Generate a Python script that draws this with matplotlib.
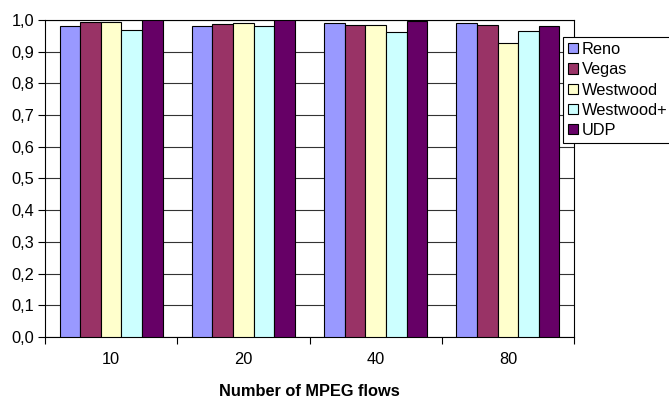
import numpy as np
import matplotlib
matplotlib.use("Agg")
import matplotlib.pyplot as plt
from matplotlib.ticker import FuncFormatter

plt.rcParams['font.family'] = ['Liberation Sans', 'DejaVu Sans']

flows = ['10', '20', '40', '80']
series = ['Reno', 'Vegas', 'Westwood', 'Westwood+', 'UDP']
reno = [0.981, 0.981, 0.989, 0.989]
vegas = [0.993, 0.986, 0.985, 0.985]
westwood = [0.993, 0.989, 0.985, 0.927]
westwood_plus = [0.970, 0.981, 0.962, 0.965]
udp = [1.000, 1.000, 0.998, 0.981]
colors = ['#9999FF', '#993366', '#FFFFCC', '#CCFFFF', '#660066']

values = [reno, vegas, westwood, westwood_plus, udp]
fs = 11.8

fig = plt.figure(figsize=(6.69, 3.99), dpi=100)
ax = fig.add_axes([0.0673, 0.1554, 0.7907, 0.7945])

x = np.arange(len(flows))
w = 0.156
for i, (name, vals, c) in enumerate(zip(series, values, colors)):
    ax.bar(x + (i - 2) * w, vals, w, color=c, edgecolor='black',
           linewidth=0.8, label=name, zorder=3)

ax.set_xlim(-0.5, len(flows) - 0.5)
ax.set_ylim(0, 1.0)
ax.set_yticks(np.arange(0, 1.01, 0.1))
ax.yaxis.set_major_formatter(FuncFormatter(lambda v, p: f"{v:.1f}".replace('.', ',')))
ax.yaxis.grid(True, color='#333333', linewidth=0.8, zorder=0)

ax.set_xticks(np.arange(-0.5, len(flows), 1.0))
ax.set_xticklabels([])
ax.set_xticks(x, minor=True)
ax.set_xticklabels(flows, minor=True)
ax.tick_params(axis='x', which='minor', length=0, pad=11, labelsize=fs)
ax.tick_params(axis='x', which='major', length=5, width=0.8, direction='out')
ax.tick_params(axis='y', length=5, width=0.8, direction='out', labelsize=fs, pad=3)

for s in ax.spines.values():
    s.set_color('black')
    s.set_linewidth(0.8)

ax.set_xlabel('Number of MPEG flows', fontweight='bold', fontsize=fs, labelpad=12)

leg = ax.legend(loc='upper left', bbox_to_anchor=(0.8416, 0.907),
                bbox_transform=fig.transFigure, borderaxespad=0,
                fancybox=False, edgecolor='black', framealpha=1,
                handlelength=0.6, handleheight=0.6, handletextpad=0.25,
                labelspacing=0.32, borderpad=0.3, fontsize=fs)
leg.get_frame().set_linewidth(0.8)

fig.savefig('out.png', dpi=100)
